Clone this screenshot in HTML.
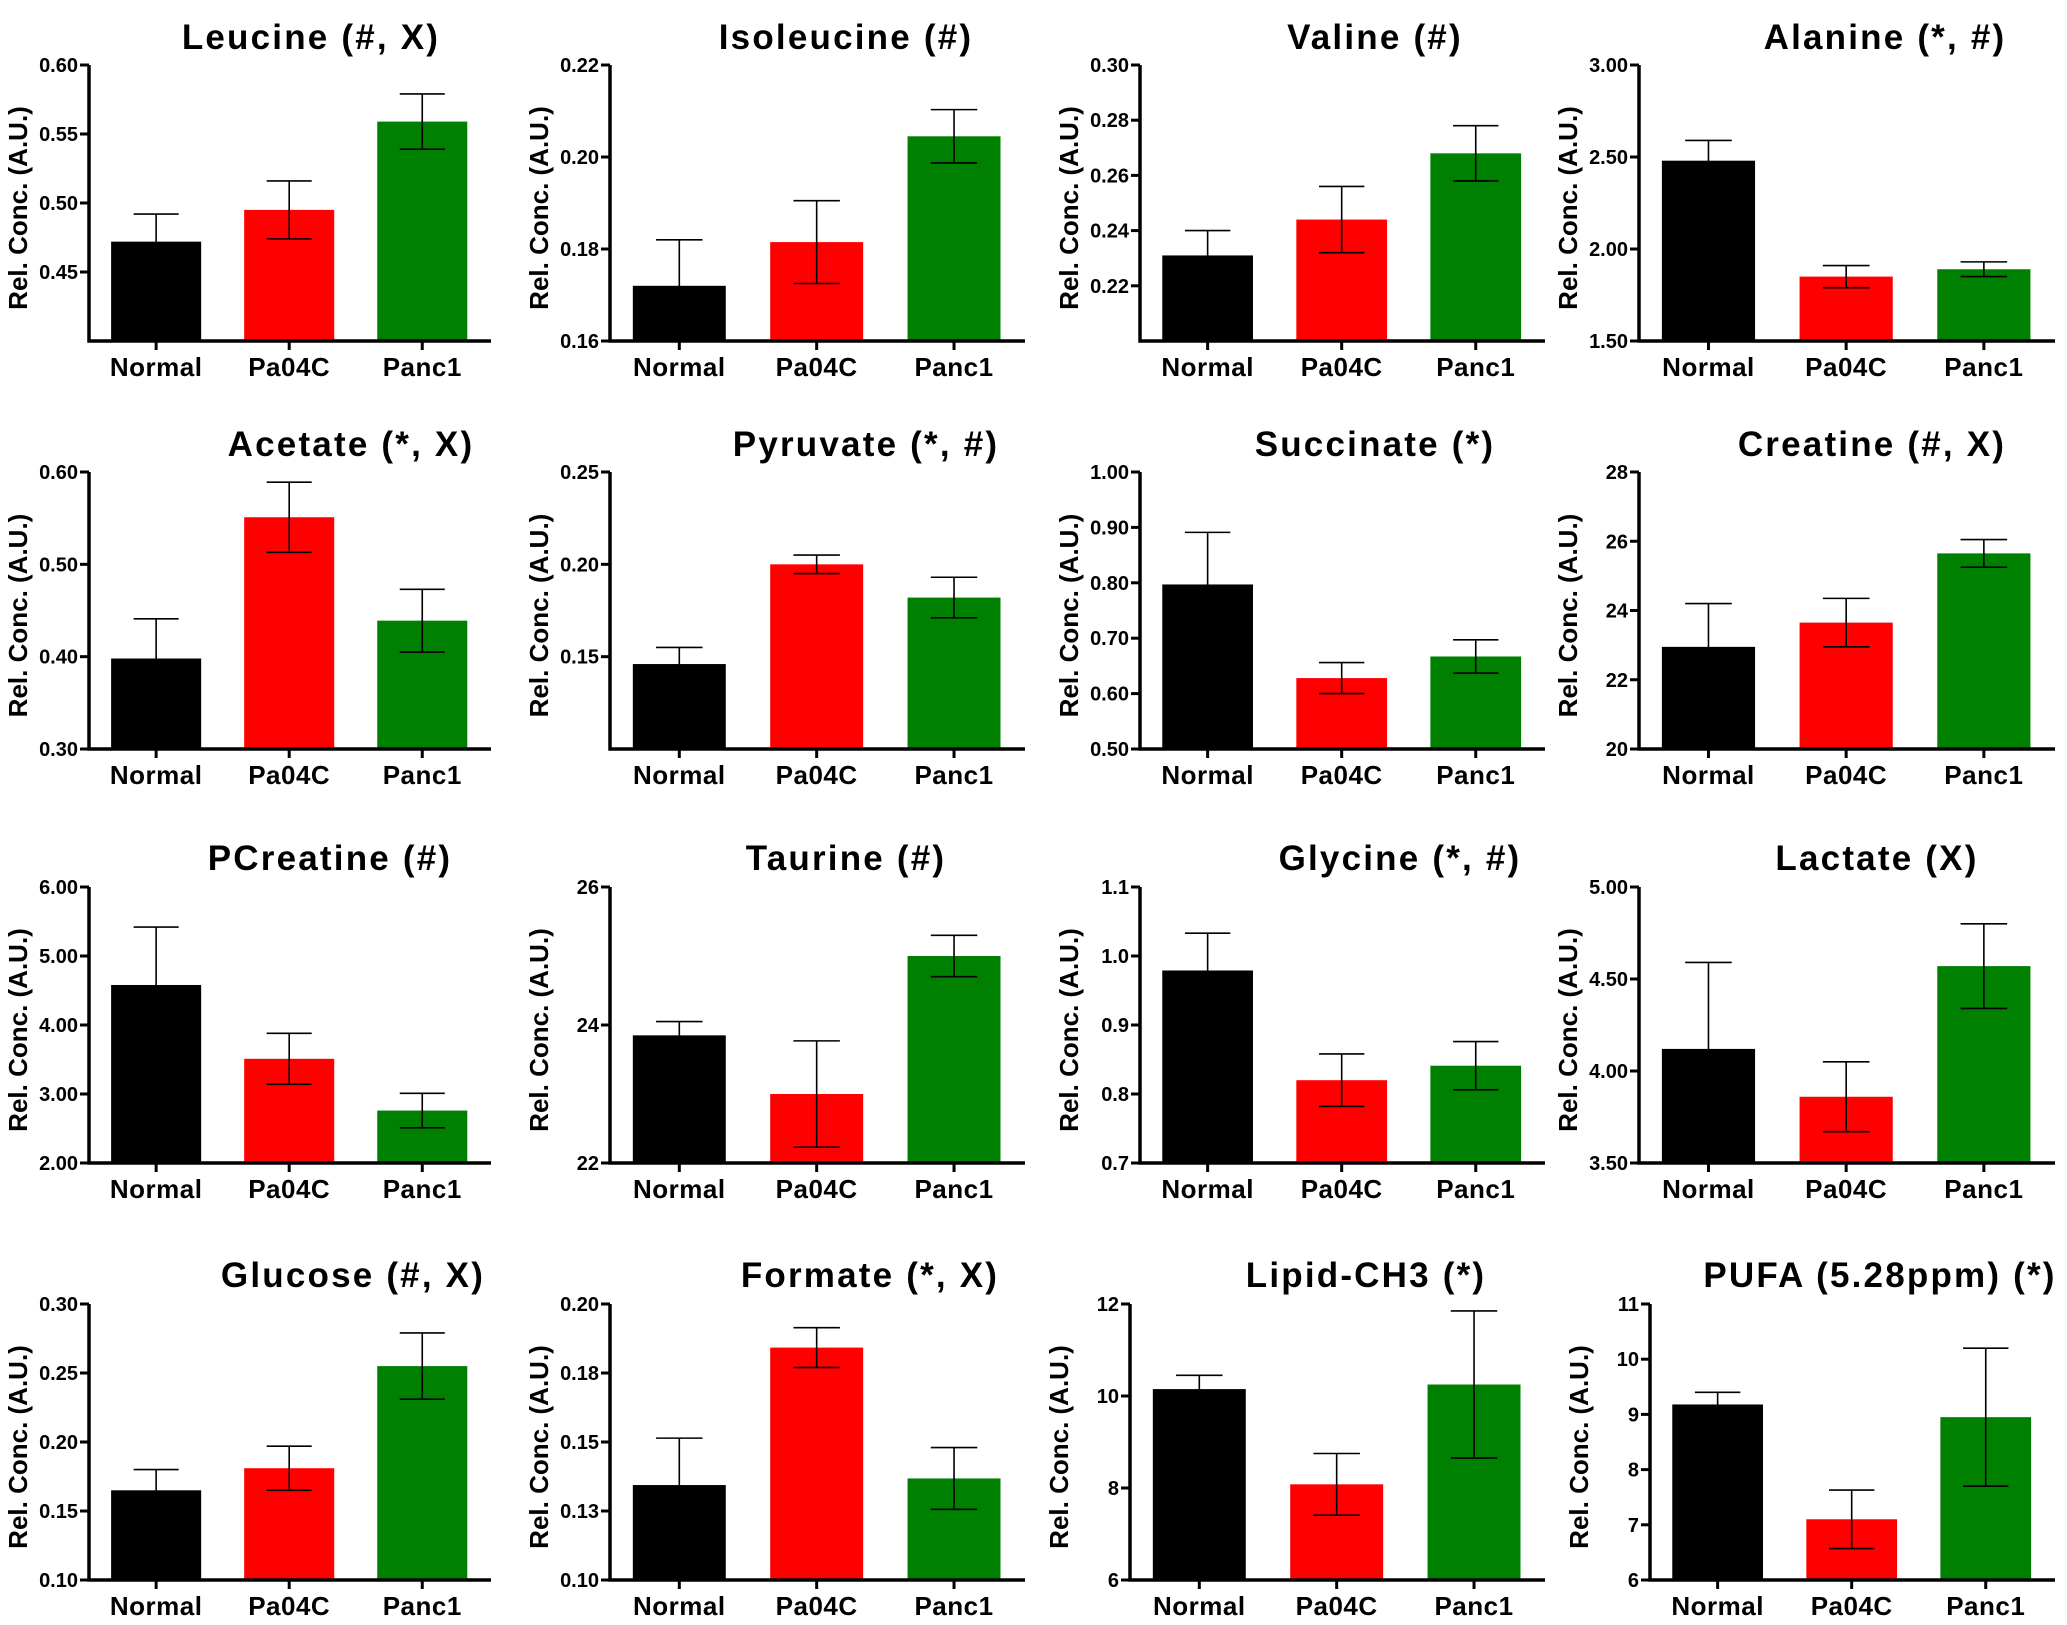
<!DOCTYPE html>
<html><head><meta charset="utf-8"><style>
html,body{margin:0;padding:0;background:#fff;}
svg{display:block;font-family:"Liberation Sans",Arial,sans-serif;font-weight:bold;}
</style></head><body>
<svg id="fig" width="2067" height="1625" viewBox="0 0 2067 1625" xmlns="http://www.w3.org/2000/svg"></svg>
<script>
const titles = ["Leucine (#, X)","Isoleucine (#)","Valine (#)","Alanine (*, #)",
"Acetate (*, X)","Pyruvate (*, #)","Succinate (*)","Creatine (#, X)",
"PCreatine (#)","Taurine (#)","Glycine (*, #)","Lactate (X)",
"Glucose (#, X)","Formate (*, X)","Lipid-CH3 (*)","PUFA (5.28ppm) (*)"];
const categories = ["Normal","Pa04C","Panc1"];
const yMins = [0.40,0.16,0.20,1.5, 0.30,0.10,0.50,20, 2,22,0.7,3.5, 0.10,0.10,6,6];
const yMaxs = [0.60,0.22,0.30,3.0, 0.60,0.25,1.00,28, 6,26,1.1,5.0, 0.30,0.20,12,11];
const tickValues = [
[0.45,0.50,0.55,0.60],[0.16,0.18,0.20,0.22],[0.22,0.24,0.26,0.28,0.30],[1.5,2.0,2.5,3.0],
[0.30,0.40,0.50,0.60],[0.15,0.20,0.25],[0.5,0.6,0.7,0.8,0.9,1.0],[20,22,24,26,28],
[2,3,4,5,6],[22,24,26],[0.7,0.8,0.9,1.0,1.1],[3.5,4.0,4.5,5.0],
[0.10,0.15,0.20,0.25,0.30],[0.10,0.125,0.15,0.175,0.20],[6,8,10,12],[6,7,8,9,10,11]];
const tickLabels = [
["0.45","0.50","0.55","0.60"],["0.16","0.18","0.20","0.22"],["0.22","0.24","0.26","0.28","0.30"],["1.50","2.00","2.50","3.00"],
["0.30","0.40","0.50","0.60"],["0.15","0.20","0.25"],["0.50","0.60","0.70","0.80","0.90","1.00"],["20","22","24","26","28"],
["2.00","3.00","4.00","5.00","6.00"],["22","24","26"],["0.7","0.8","0.9","1.0","1.1"],["3.50","4.00","4.50","5.00"],
["0.10","0.15","0.20","0.25","0.30"],["0.10","0.13","0.15","0.18","0.20"],["6","8","10","12"],["6","7","8","9","10","11"]];
const normalVals = [0.472,0.172,0.231,2.48, 0.398,0.146,0.797,22.95, 4.58,23.85,0.979,4.12, 0.165,0.1344,10.15,9.18];
const normalErr  = [0.020,0.010,0.009,0.11, 0.043,0.009,0.094,1.25, 0.84,0.20,0.054,0.47, 0.015,0.017,0.30,0.22];
const pa04cVals  = [0.495,0.1815,0.244,1.85, 0.551,0.200,0.628,23.65, 3.51,23.0,0.820,3.86, 0.181,0.1842,8.08,7.10];
const pa04cErr   = [0.021,0.009,0.012,0.06, 0.038,0.005,0.028,0.70, 0.37,0.77,0.038,0.19, 0.016,0.0072,0.67,0.53];
const panc1Vals  = [0.559,0.2045,0.268,1.89, 0.439,0.182,0.667,25.65, 2.76,25.0,0.841,4.57, 0.255,0.1368,10.25,8.95];
const panc1Err   = [0.020,0.0058,0.010,0.04, 0.034,0.011,0.030,0.40, 0.25,0.30,0.035,0.23, 0.024,0.0112,1.60,1.25];

// layout (not data)
const colAxis = [[89,610,1140,1639],[89,610,1140,1639],[89,610,1140,1639],[89,610,1130,1650]];
const colRight = [491,1025,1545,2055];
const rowTop = [65,472,887,1304];
const rowBot = [341,749,1163,1580];
const titleX = [311,846,1375,1885, 351,866,1375,1872, 330,846,1400,1877, 353,870,1366,1880];
const titleY = [37,444,858,1275];
const colors = ["#000000","#ff0000","#008000"];

const NS="http://www.w3.org/2000/svg";
const svg=document.getElementById('fig');
function mk(tag,attrs,parent){const e=document.createElementNS(NS,tag);for(const k in attrs)e.setAttribute(k,attrs[k]);(parent||svg).appendChild(e);return e;}

for(let p=0;p<16;p++){
  const r=Math.floor(p/4), c=p%4;
  const g=mk('g',{});
  
  
  const ax=colAxis[r][c], rx=colRight[c], top=rowTop[r], bot=rowBot[r];
  const L=rx-ax;
  const yMin=yMins[p], yMax=yMaxs[p];
  const y=v=>bot-(v-yMin)/(yMax-yMin)*(bot-top);
  const bw=0.224*L, x0=ax+0.055*L, step=0.331*L;
  const xs=i=>x0+i*step;
  const t=mk('text',{x:titleX[p],y:titleY[r]+12,'text-anchor':'middle','font-size':35,'letter-spacing':2.2},g);
  t.textContent=titles[p];
  
  
  const yl=mk('text',{x:0,y:0,'text-anchor':'middle','font-size':26,transform:`translate(${ax-62},${(top+bot)/2+5}) rotate(-90)`},g);
  yl.textContent='Rel. Conc. (A.U.)';
  
  
  const vals=[normalVals[p],pa04cVals[p],panc1Vals[p]];
  const errs=[normalErr[p],pa04cErr[p],panc1Err[p]];
  for(let i=0;i<3;i++){
    const b=mk('rect',{x:xs(i),y:y(vals[i]),width:bw,height:bot-y(vals[i]),fill:colors[i]},g);
    
    
    const cx=xs(i)+bw/2, yt=y(vals[i]+errs[i]), yb=y(vals[i]-errs[i]);
    const eb=mk('path',{d:`M${cx},${yt}V${yb}M${cx-bw/4},${yt}H${cx+bw/4}M${cx-bw/4},${yb}H${cx+bw/4}`,stroke:'#000','stroke-width':1.6,fill:'none'},g);
    
    
    mk('line',{x1:cx,x2:cx,y1:bot,y2:bot+9,stroke:'#000','stroke-width':3},g);
    const cl=mk('text',{x:cx,y:bot+35,'text-anchor':'middle','font-size':26,'letter-spacing':0.5},g);
    cl.textContent=categories[i];
    
    
  }
  const axes=mk('path',{d:`M${ax},${top}V${bot}H${rx}`,stroke:'#000','stroke-width':3.5,fill:'none'},g);
  
  
  tickValues[p].forEach((v,k)=>{
    const yy=y(v);
    mk('line',{x1:ax-9,x2:ax,y1:yy,y2:yy,stroke:'#000','stroke-width':3},g);
    const tl=mk('text',{x:ax-11,y:yy+7,'text-anchor':'end','font-size':20},g);
    tl.textContent=tickLabels[p][k];
    
    
  });
}
</script>
</body></html>
